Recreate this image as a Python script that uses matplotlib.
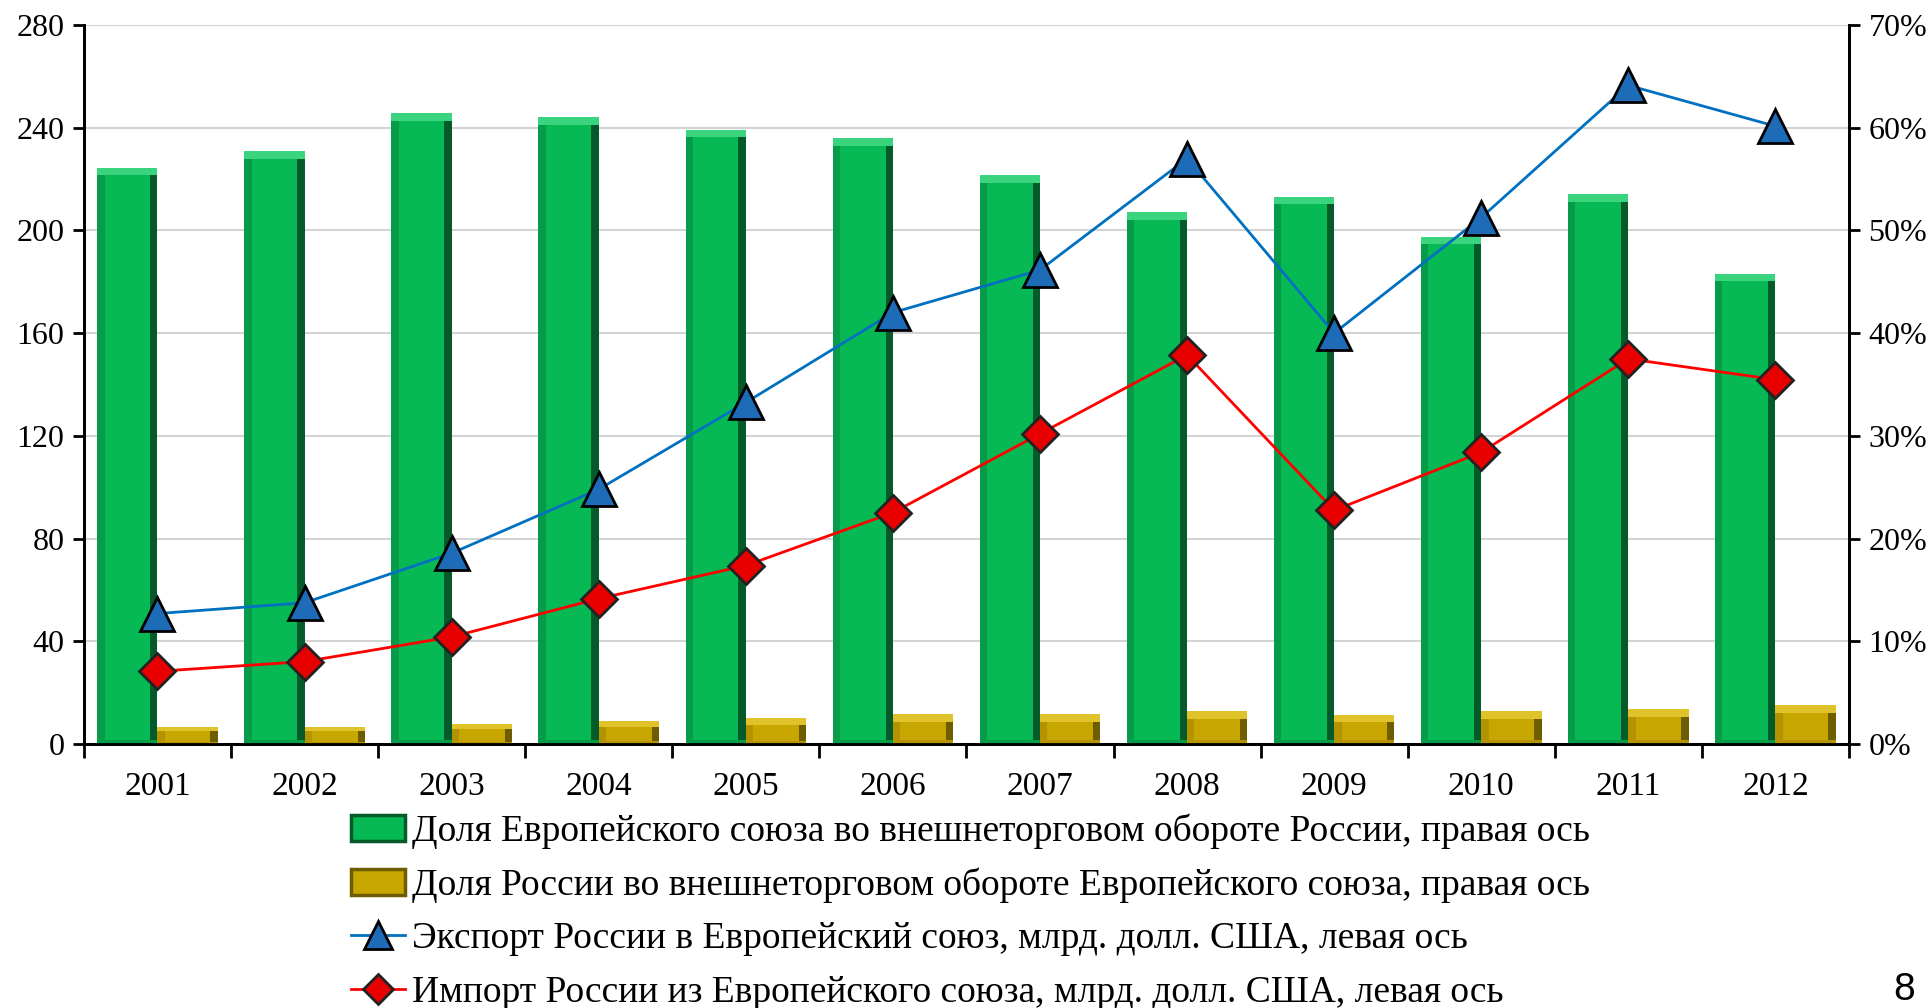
import matplotlib.pyplot as plt
import numpy as np
from matplotlib.lines import Line2D
from matplotlib.patches import Patch

# Данные с графика
years = ["2001", "2002", "2003", "2004", "2005", "2006",
         "2007", "2008", "2009", "2010", "2011", "2012"]
eu_share = [56.1, 57.7, 61.4, 61.0, 59.8, 59.0, 55.4, 51.8, 53.3, 49.4, 53.5, 45.8]   # % правая ось
ru_share = [1.7, 1.7, 1.9, 2.2, 2.5, 2.9, 2.9, 3.2, 2.8, 3.2, 3.4, 3.8]              # % правая ось
export = [50.8, 55.0, 74.3, 99.2, 133.0, 168.0, 184.6, 228.0, 160.0, 205.0, 256.5, 240.6]
imports = [28.3, 32.1, 41.7, 56.6, 69.5, 90.1, 120.8, 151.5, 91.0, 113.6, 150.0, 141.9]

labels = ["Доля Европейского союза во внешнеторговом обороте России, правая ось",
          "Доля России во внешнеторговом обороте Европейского союза, правая ось",
          "Экспорт России в Европейский союз, млрд. долл. США, левая ось",
          "Импорт России из Европейского союза, млрд. долл. США, левая ось"]

plt.rcParams['font.family'] = ['Liberation Serif', 'DejaVu Serif']

green = "#07B955"
green_top = "#3AD47E"
green_left = "#069B48"
green_dark = "#045A29"
gold = "#C8A600"
gold_top = "#E0C32A"
gold_left = "#B39400"
gold_dark = "#6E5C00"


def bevel_bars(a, xs, hs, width, base, top, left, dark, side=0.05, cap=0.75):
    # "объёмные" столбцы: основа + светлая кромка сверху + тёмные боковые грани
    hs = np.asarray(hs)
    a.bar(xs, hs, width=width, color=base, linewidth=0, zorder=2)
    a.bar(xs - width / 2, hs, width=side, align='edge', color=left, linewidth=0, zorder=2)
    a.bar(xs + width / 2 - side, hs, width=side, align='edge', color=dark, linewidth=0, zorder=2)
    c = np.minimum(cap, hs * 0.25)
    a.bar(xs, c, bottom=hs - c, width=width, color=top, linewidth=0, zorder=2)
    a.bar(xs, c * 0.5, width=width, color=left, linewidth=0, zorder=2)


fig = plt.figure(figsize=(19.3, 10.08), dpi=100)
ax = fig.add_axes([0.0435, 0.2619, 0.9145, 0.7133])
ax2 = ax.twinx()

x = np.arange(len(years))
w = 0.41

# столбцы (правая ось)
bevel_bars(ax2, x - w / 2, eu_share, w, green, green_top, green_left, green_dark)
bevel_bars(ax2, x + w / 2, ru_share, w, gold, gold_top, gold_left, gold_dark)

ax2.set_ylim(0, 70)
ax2.set_yticks(np.arange(0, 71, 10))
ax2.set_yticklabels([f"{v}%" for v in range(0, 71, 10)])

ax.set_ylim(0, 280)
ax.set_yticks(np.arange(0, 281, 40))
ax.set_xlim(-0.5, len(years) - 0.5)
ax.grid(axis='y', color="#D4D4D4", linewidth=1.5)
ax.set_axisbelow(True)

# линии (левая ось) поверх столбцов
ax3 = ax.twinx()
ax3.set_ylim(0, 280)
ax3.axis('off')
ax3.plot(x, export, color="#0070C0", linewidth=2, marker='^', markersize=24,
         markerfacecolor="#1E6BB8", markeredgecolor="black", markeredgewidth=2, zorder=4)
ax3.plot(x, imports, color="#FF0000", linewidth=2, marker='D', markersize=18,
         markerfacecolor="#E80000", markeredgecolor="#222222", markeredgewidth=2, zorder=4)

ax.set_xticks(x)
ax.set_xticklabels(years)
ax.set_xticks(np.arange(-0.5, len(years), 1), minor=True)
ax.tick_params(axis='x', which='major', length=0, labelsize=24, pad=20)
ax.tick_params(axis='x', which='minor', length=10, width=2)
ax.tick_params(axis='y', length=8, width=2, labelsize=23, pad=6)
ax2.tick_params(axis='y', length=8, width=2, labelsize=23, pad=6)

for a in (ax, ax2):
    a.spines['top'].set_visible(False)
    for s in ('left', 'right', 'bottom'):
        a.spines[s].set_linewidth(2)
ax3.set_zorder(3)

handles = [Patch(facecolor=green, edgecolor=green_dark, linewidth=2.5),
           Patch(facecolor=gold, edgecolor=gold_dark, linewidth=2.5),
           Line2D([], [], color="#0070C0", linewidth=2, marker='^', markersize=20,
                  markerfacecolor="#1E6BB8", markeredgecolor="black", markeredgewidth=2),
           Line2D([], [], color="#FF0000", linewidth=2, marker='D', markersize=15,
                  markerfacecolor="#E80000", markeredgecolor="#222222", markeredgewidth=2)]
fig.legend(handles, labels, loc='upper left', bbox_to_anchor=(0.182, 0.193),
           frameon=False, fontsize=27, handlelength=1.42, handletextpad=0.2,
           labelspacing=0.5, borderaxespad=0, borderpad=0)

fig.text(0.992, 0.008, "8", fontsize=28, family='Liberation Sans', ha='right', va='baseline')

fig.savefig("out.png", dpi=100)
